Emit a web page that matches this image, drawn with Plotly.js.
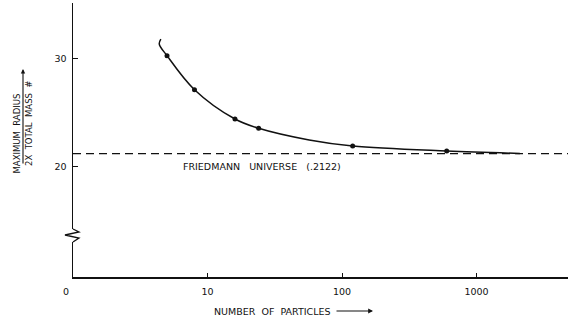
<!DOCTYPE html>
<html>
<head>
<meta charset="utf-8">
<script src="https://cdn.plot.ly/plotly-3.0.1.min.js"></script>
<style>html,body{margin:0;padding:0;background:#fff;}#chart{width:568px;height:325px;}</style>
</head>
<body>
<div id="chart"></div>
<script>
// Measured points (number of particles vs max radius / 2x total mass)
var pointN = [5, 8, 16, 24, 120, 600];
var pointR = [30.28, 27.13, 24.42, 23.56, 21.92, 21.46];
// Hand-drawn smooth curve
var curveN = [4.5, 4.38, 5, 8, 16, 24, 57, 120, 600, 2100];
var curveR = [31.8, 31.35, 30.28, 27.13, 24.42, 23.56, 22.48, 21.92, 21.46, 21.24];
// Friedmann universe limit
var friedmannN = [1, 4786];
var friedmannR = [21.22, 21.22];
var xTickVals = [10, 100, 1000];
var xTickText = ['10', '100', '1000'];
var yTickVals = [20, 30];
var yTickText = ['20', '30'];

var F = 'DejaVu Sans, sans-serif';
var ink = '#111';

var traces = [
  {x: friedmannN, y: friedmannR, mode: 'lines', line: {color: ink, width: 1.2, dash: '8px,5px'}, hoverinfo: 'skip'},
  {x: curveN, y: curveR, mode: 'lines', line: {color: ink, width: 1.5, shape: 'spline', smoothing: 1}, hoverinfo: 'skip'},
  {x: pointN, y: pointR, mode: 'markers', marker: {color: ink, size: 5}}
];

function px2x(p){return (p-73)/495;}
function py2y(p){return (277-p)/274;}

var zz = [[73,229],[79,232],[65,235],[79,238],[73,242]];
var zpath = 'M ' + zz.map(function(q){return px2x(q[0]).toFixed(4)+','+py2y(q[1]).toFixed(4);}).join(' L ');

function txt(px, py, t, size, angle){
  return {xref: 'paper', yref: 'paper', x: px2x(px), y: py2y(py), xanchor: 'center', yanchor: 'middle',
    text: t, showarrow: false, textangle: angle || 0, font: {family: F, size: size, color: ink}};
}

var layout = {
  width: 568, height: 325,
  margin: {l: 73, r: 0, t: 3, b: 48},
  paper_bgcolor: '#fff', plot_bgcolor: '#fff',
  showlegend: false,
  font: {family: F, size: 9, color: ink},
  xaxis: {
    type: 'log', range: [0, 3.68],
    showgrid: false, zeroline: false,
    showline: true, linecolor: ink, linewidth: 1.5,
    ticks: 'inside', ticklen: 4, tickwidth: 1, tickcolor: ink,
    tickvals: xTickVals, ticktext: xTickText,
    ticklabelstandoff: 5,
    tickfont: {family: F, size: 9.5, color: ink}
  },
  yaxis: {
    range: [9.81, 35.15],
    showgrid: false, zeroline: false,
    showline: true, linecolor: ink, linewidth: 1.5,
    ticks: 'inside', ticklen: 5, tickwidth: 1, tickcolor: ink,
    tickvals: yTickVals, ticktext: yTickText,
    ticklabelstandoff: 3,
    tickfont: {family: F, size: 9.5, color: ink}
  },
  shapes: [
    {type: 'line', xref: 'paper', yref: 'paper', x0: 0, x1: 0, y0: py2y(229), y1: py2y(242), line: {color: '#fff', width: 4}, layer: 'above'},
    {type: 'path', xref: 'paper', yref: 'paper', path: zpath, line: {color: ink, width: 1.3}, layer: 'above'}
  ],
  annotations: [
    txt(66, 291, '0', 9.5),
    txt(262, 166, 'FRIEDMANN\u00a0\u00a0\u00a0UNIVERSE\u00a0\u00a0\u00a0(.2122)', 9.5),
    txt(272, 311, 'NUMBER\u00a0\u00a0OF\u00a0\u00a0PARTICLES', 9.5),
    {xref: 'paper', yref: 'paper', x: px2x(373), y: py2y(311), ax: -38, ay: 0, text: '', showarrow: true, arrowhead: 2, arrowsize: 0.8, arrowwidth: 1.2, arrowcolor: ink},
    txt(17, 133.5, 'MAXIMUM\u00a0\u00a0RADIUS', 8.5, -90),
    txt(29, 124, '2X\u00a0\u00a0TOTAL\u00a0\u00a0MASS\u00a0\u00a0#', 8.5, -90),
    {xref: 'paper', yref: 'paper', x: px2x(23), y: py2y(69), ax: 0, ay: 96, text: '', showarrow: true, arrowhead: 2, arrowsize: 0.8, arrowwidth: 1.1, arrowcolor: ink}
  ]
};

Plotly.newPlot('chart', traces, layout, {staticPlot: true, displayModeBar: false});
</script>
</body>
</html>
